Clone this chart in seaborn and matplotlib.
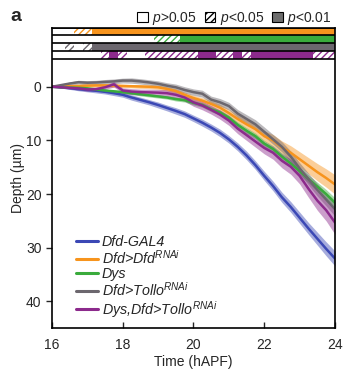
import numpy as np
import pandas as pd
import seaborn as sns
import matplotlib
matplotlib.use("Agg")
import matplotlib.pyplot as plt
from matplotlib.patches import Patch
from matplotlib.lines import Line2D

# ---------------- data ----------------
time = [16.0, 16.25, 16.5, 16.75, 17.0, 17.25, 17.5, 17.75, 18.0, 18.25, 18.5, 18.75,
        19.0, 19.25, 19.5, 19.75, 20.0, 20.25, 20.5, 20.75, 21.0, 21.25, 21.5, 21.75,
        22.0, 22.25, 22.5, 22.75, 23.0, 23.25, 23.5, 23.75, 24.0]

dfd_gal4 = [0.0, 0.1, 0.25, 0.45, 0.6, 0.75, 0.95, 1.2, 1.5, 2.0, 2.45, 2.9, 3.4, 3.95,
            4.5, 5.1, 5.9, 6.7, 7.6, 8.6, 9.8, 11.2, 12.8, 14.6, 16.6, 18.5, 20.6, 22.4,
            24.4, 26.4, 28.3, 30.2, 32.0]
dfd_rnai = [0.0, -0.05, -0.1, -0.15, -0.2, -0.25, -0.25, -0.2, -0.15, -0.1, -0.05, 0.0,
            0.1, 0.4, 0.8, 1.5, 2.1, 2.6, 3.2, 3.9, 4.9, 6.0, 7.0, 7.9, 9.2, 10.0, 11.3,
            12.3, 13.5, 14.7, 15.9, 17.0, 18.2]
dys = [0.0, 0.1, 0.15, 0.2, 0.3, 0.5, 0.7, 0.85, 1.0, 1.2, 1.4, 1.6, 1.8, 2.0, 2.3, 2.5,
       3.0, 3.4, 4.2, 4.8, 5.8, 7.1, 8.2, 9.2, 10.6, 11.6, 13.0, 14.3, 15.7, 17.2, 18.6,
       20.0, 21.6]
tollo_rnai = [0.0, -0.3, -0.6, -0.85, -0.75, -0.8, -0.9, -1.0, -1.15, -1.15, -1.0, -0.8,
              -0.55, -0.2, 0.1, 0.6, 1.0, 1.3, 2.4, 2.9, 3.6, 5.0, 6.0, 7.0, 8.4, 9.8,
              11.2, 13.0, 15.2, 17.2, 19.2, 21.0, 22.8]
dys_tollo = [0.0, 0.1, 0.2, 0.3, 0.5, 0.45, 0.1, -0.45, 0.7, 0.9, 1.0, 1.05, 1.1, 1.2,
             1.5, 2.0, 2.9, 3.5, 4.3, 5.2, 6.3, 7.8, 9.0, 10.2, 11.4, 12.3, 13.8, 14.9,
             16.6, 19.0, 21.2, 23.0, 25.3]

dfd_gal4_err = [0.0, 0.15, 0.25, 0.3, 0.35, 0.4, 0.4, 0.45, 0.45, 0.5, 0.5, 0.5, 0.55,
                0.55, 0.6, 0.6, 0.6, 0.65, 0.65, 0.7, 0.7, 0.75, 0.8, 0.8, 0.85, 0.9,
                0.95, 1.0, 1.05, 1.1, 1.2, 1.3, 1.4]
dfd_rnai_err = [0.0, 0.15, 0.2, 0.25, 0.3, 0.3, 0.3, 0.3, 0.3, 0.3, 0.35, 0.35, 0.4, 0.4,
                0.45, 0.5, 0.5, 0.55, 0.6, 0.65, 0.7, 0.75, 0.8, 0.9, 1.0, 1.1, 1.2, 1.3,
                1.4, 1.5, 1.6, 1.7, 1.8]
dys_err = [0.0, 0.1, 0.15, 0.2, 0.2, 0.2, 0.25, 0.25, 0.25, 0.25, 0.3, 0.3, 0.3, 0.3,
           0.35, 0.35, 0.4, 0.4, 0.45, 0.45, 0.5, 0.5, 0.55, 0.55, 0.6, 0.6, 0.65, 0.7,
           0.7, 0.75, 0.8, 0.85, 0.9]
tollo_rnai_err = [0.0, 0.2, 0.3, 0.35, 0.4, 0.4, 0.45, 0.45, 0.45, 0.5, 0.5, 0.5, 0.55,
                  0.55, 0.6, 0.6, 0.6, 0.65, 0.65, 0.7, 0.7, 0.75, 0.8, 0.85, 0.9, 0.9,
                  0.95, 1.0, 1.05, 1.1, 1.15, 1.2, 1.3]
dys_tollo_err = [0.0, 0.15, 0.25, 0.3, 0.35, 0.4, 0.4, 0.5, 0.5, 0.55, 0.55, 0.6, 0.6,
                 0.65, 0.7, 0.7, 0.75, 0.8, 0.8, 0.85, 0.9, 0.95, 1.0, 1.05, 1.1, 1.2,
                 1.3, 1.4, 1.5, 1.6, 1.8, 2.0, 2.2]

labels = ["Dfd-GAL4", "Dfd>Dfd$^{RNAi}$", "Dys", "Dfd>Tollo$^{RNAi}$",
          "Dys,Dfd>Tollo$^{RNAi}$"]
colors = ["#3b48b5", "#f7941d", "#3aab3c", "#6c676e", "#8c2a8c"]

# significance segments (start, end, level: 'h' = p<0.05, 's' = p<0.01)
sig_dfd_rnai = [(16.625, 17.125, 'h'), (17.125, 24.0, 's')]
sig_dys = [(18.875, 19.625, 'h'), (19.625, 24.0, 's')]
sig_tollo_rnai = [(16.375, 16.625, 'h'), (16.875, 17.125, 'h'), (17.125, 24.0, 's')]
sig_dys_tollo = [(17.375, 17.625, 'h'), (17.625, 17.875, 's'), (17.875, 18.125, 'h'),
                 (18.625, 20.125, 'h'), (20.125, 20.625, 's'), (20.625, 21.125, 'h'),
                 (21.125, 21.375, 's'), (21.375, 21.625, 'h'), (21.625, 23.375, 's'),
                 (23.375, 24.0, 'h')]

legend_levels = ["$p$>0.05", "$p$<0.05", "$p$<0.01"]

# ---------------- plot ----------------
sns.set_theme(style="ticks")
plt.rcParams['font.family'] = ['Liberation Sans', 'DejaVu Sans']
plt.rcParams['mathtext.fontset'] = 'custom'
plt.rcParams['mathtext.it'] = 'Liberation Sans:italic'
plt.rcParams['mathtext.rm'] = 'Liberation Sans'
plt.rcParams['hatch.linewidth'] = 1.0

fig = plt.figure(figsize=(3.45, 3.78), dpi=100)
ax = fig.add_axes([0.1507, 0.1315, 0.8203, 0.7952])

series = [dfd_gal4, dfd_rnai, dys, tollo_rnai, dys_tollo]
errs = [dfd_gal4_err, dfd_rnai_err, dys_err, tollo_rnai_err, dys_tollo_err]
t = np.array(time)
for vals, e, c, lab in zip(series, errs, colors, labels):
    v = np.array(vals)
    ee = np.array(e)
    ax.fill_between(t, v - ee, v + ee, color=c, alpha=0.45, linewidth=0)
    df = pd.DataFrame({"time": time, "depth": vals})
    sns.lineplot(data=df, x="time", y="depth", color=c, lw=1.8, ax=ax, label=lab,
                 legend=False)

# significance rows
row_centers = [-10.28, -8.83, -7.38, -5.93]
row_h = 1.45
for segs, yc, c in zip([sig_dfd_rnai, sig_dys, sig_tollo_rnai, sig_dys_tollo],
                       row_centers, colors[1:]):
    for s, e, lev in segs:
        if lev == 's':
            ax.barh(yc, e - s, left=s, height=row_h, color=c, linewidth=0)
        else:
            ax.barh(yc, e - s, left=s, height=row_h, facecolor='white', edgecolor=c,
                    hatch='/////', linewidth=0)
for yb in [-11.0, -9.55, -8.1, -6.65, -5.2]:
    ax.axhline(yb, color='black', lw=1.2, zorder=5)

ax.set_xlim(16, 24)
ax.set_ylim(45, -11)
ax.set_xticks([16, 18, 20, 22, 24])
ax.set_yticks([0, 10, 20, 30, 40])
ax.tick_params(axis='x', direction='in', length=4, width=1, labelsize=10, pad=7)
ax.tick_params(axis='y', direction='out', length=4, width=1, labelsize=10)
for sp in ax.spines.values():
    sp.set_visible(True)
    sp.set_linewidth(1.2)
    sp.set_color('black')
ax.set_xlabel("Time (hAPF)", fontsize=10, labelpad=2)
ax.set_ylabel("Depth (µm)", fontsize=10, labelpad=1)

handles = [Line2D([0], [0], color=c, lw=2.2) for c in colors]
leg = ax.legend(handles, labels, loc='lower left', bbox_to_anchor=(0.065, 0.01),
                frameon=False, fontsize=10.3, handlelength=1.5, handletextpad=0.3,
                labelspacing=0.0, borderaxespad=0)
for txt in leg.get_texts():
    txt.set_fontstyle('italic')

# p-value legend
phandles = [Patch(facecolor='white', edgecolor='black', lw=0.8),
            Patch(facecolor='white', edgecolor='black', hatch='/////', lw=0.8),
            Patch(facecolor='#6d6d6d', edgecolor='black', lw=0.8)]
fig.legend(phandles, legend_levels, loc='upper right', bbox_to_anchor=(0.985, 0.995),
           ncol=3, frameon=False, fontsize=10, handlelength=0.75, handleheight=0.75,
           handletextpad=0.3, columnspacing=0.6, borderaxespad=0.2)

fig.text(0.03, 0.945, "a", fontsize=14, fontweight='bold')

fig.savefig("out.png", dpi=100)
